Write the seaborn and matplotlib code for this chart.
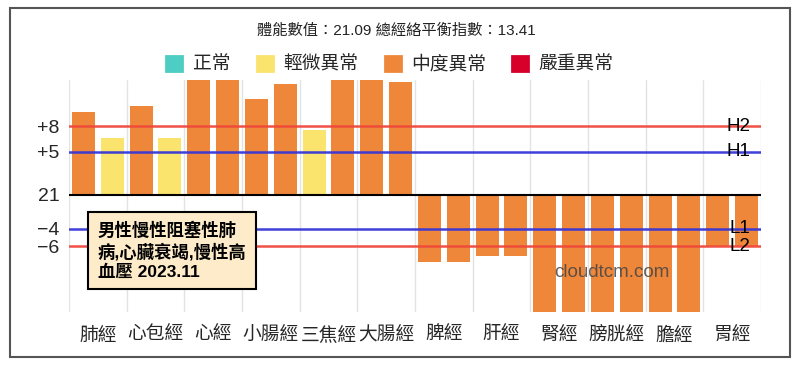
import matplotlib
matplotlib.use("Agg")
import matplotlib.pyplot as plt
from matplotlib.patches import Patch, Rectangle
import seaborn as sns
import pandas as pd
import numpy as np

# ---- data ----
categories = ["肺經", "心包經", "心經", "小腸經", "三焦經", "大腸經",
              "脾經", "肝經", "腎經", "膀胱經", "膽經", "胃經"]
# two bars per meridian (left / right), offsets relative to baseline 21
left_values = [9.6, 10.3, 14.0, 11.1, 7.5, 14.0, -7.9, -7.2, -14.0, -14.0, -14.0, -6.0]
right_values = [6.6, 6.6, 14.0, 12.9, 14.0, 13.1, -7.9, -7.2, -14.0, -14.0, -14.0, -6.0]
left_levels = ["中度異常", "中度異常", "中度異常", "中度異常", "輕微異常", "中度異常",
               "中度異常", "中度異常", "中度異常", "中度異常", "中度異常", "中度異常"]
right_levels = ["輕微異常", "輕微異常", "中度異常", "中度異常", "中度異常", "中度異常",
                "中度異常", "中度異常", "中度異常", "中度異常", "中度異常", "中度異常"]
legend_levels = ["正常", "輕微異常", "中度異常", "嚴重異常"]
level_colors = ["#4ECDC4", "#FAE46E", "#EF873B", "#D6002B"]
ref_values = [8, 5, 0, -4, -6]
ref_tick_labels = ["+8", "+5", "21", "−4", "−6"]
line_names = ["H2", "H1", "L1", "L2"]
line_values = [8, 5, -4, -6]
title_text = "體能數值：21.09 總經絡平衡指數：13.41"
note_text = "男性慢性阻塞性肺\n病,心臟衰竭,慢性高\n血壓 2023.11"
watermark = "cloudtcm.com"

sns.set_theme(style="white")
plt.rcParams["font.family"] = ["Liberation Sans", "Noto Sans CJK TC", "DejaVu Sans"]
plt.rcParams["axes.unicode_minus"] = True

vals, levs, idx = [], [], []
for i in range(len(categories)):
    vals += [left_values[i], right_values[i]]
    levs += [left_levels[i], right_levels[i]]
    idx += [2 * i, 2 * i + 1]
df = pd.DataFrame({"bar": idx, "value": vals, "level": levs})
palette = dict(zip(legend_levels, level_colors))

fig = plt.figure(figsize=(8, 3.69), dpi=100)
ax = fig.add_axes([69 / 800, 1 - 312 / 369, 692 / 800, 232 / 369])

sns.barplot(data=df, x="bar", y="value", hue="level", palette=palette,
            dodge=False, width=0.8, legend=False, ax=ax, saturation=1,
            linewidth=0, zorder=2)

n = len(categories) * 2
ax.set_xlim(-0.5, n - 0.5)
ax.set_ylim(-13.7, 13.37)

for b in range(0, n + 1, 2):
    ax.axvline(b - 0.5, color="#E3E3E3", lw=1, zorder=1)

ax.axhline(0, color="black", lw=1.5, zorder=3)
line_colors = {"H2": "#F0483C", "H1": "#3535D8", "L1": "#3535D8", "L2": "#F0483C"}
for name, v in zip(line_names, line_values):
    ax.axhline(v, color=line_colors[name], lw=1.8, zorder=3, alpha=0.95)
    ax.text(n - 0.88, v, name, ha="right", va="center", fontsize=13.5,
            color="black", zorder=4)

ax.set_yticks(ref_values)
ax.set_yticklabels(ref_tick_labels, fontsize=14)
ax.set_xticks([2 * i + 0.5 for i in range(len(categories))])
ax.set_xticklabels(categories, fontsize=13.5)
ax.tick_params(axis="x", length=0, pad=11)
ax.tick_params(axis="y", length=0, pad=7)
ax.set_xlabel("")
ax.set_ylabel("")
for s in ax.spines.values():
    s.set_visible(False)

# watermark
ax.text(0.785, 0.172, watermark, transform=ax.transAxes, ha="center", va="center",
        fontsize=13.5, color="#444444", alpha=0.85, zorder=5)

# title
fig.text(396 / 800, 1 - 31 / 369, title_text, ha="center", va="center",
         fontsize=11, color="#222222")

# legend
handles = [Patch(facecolor=c, edgecolor=c, linewidth=2, joinstyle="round")
           for c in level_colors]
fig.legend(handles, legend_levels, loc="center", bbox_to_anchor=(390 / 800, 1 - 65 / 369),
           ncol=4, frameon=False, fontsize=13.5, handlelength=0.85, handleheight=0.85,
           handletextpad=0.55, columnspacing=1.42)

# note box
fig.text(98 / 800, 1 - 222 / 369, note_text, ha="left", va="top", fontsize=12.5,
         fontweight="bold", linespacing=1.25, color="black", zorder=10,
         bbox=dict(boxstyle="square,pad=0.55", facecolor="#FDEBC9",
                   edgecolor="black", linewidth=1.5))

# outer frame
fig.patches.append(Rectangle((10 / 800, 1 - 357 / 369), 780 / 800, 349 / 369,
                             transform=fig.transFigure, fill=False,
                             edgecolor="#555555", linewidth=1.5))

fig.savefig("out.png", dpi=100)
